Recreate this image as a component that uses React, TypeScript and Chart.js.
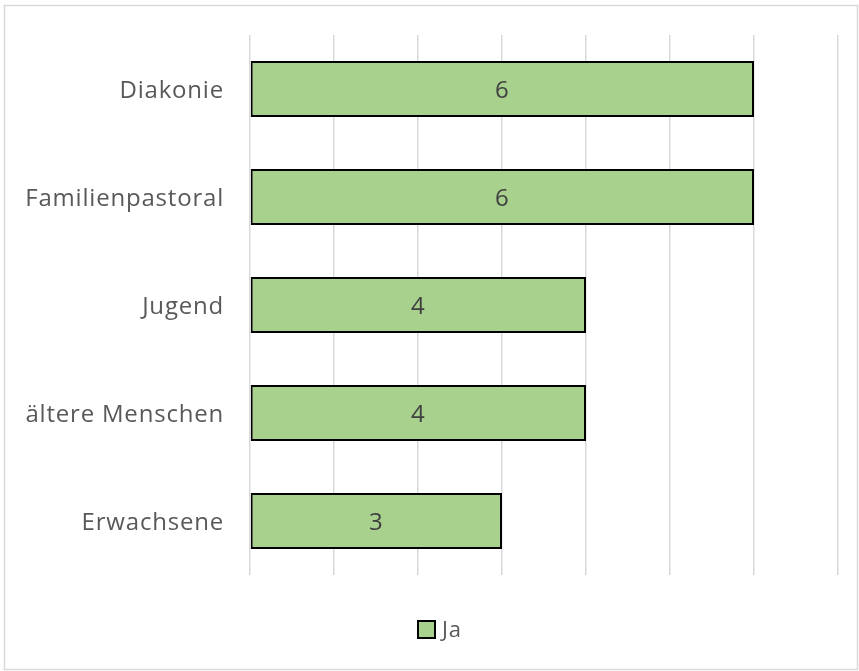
import React, { useEffect, useRef } from "react";
import { Chart, registerables } from "chart.js";

Chart.register(...registerables);

const categories = ["Diakonie", "Familienpastoral", "Jugend", "ältere Menschen", "Erwachsene"];
const seriesLabel = "Ja";
const values = [6, 6, 4, 4, 3];
const xMin = 0;
const xMax = 7;
const xStep = 1;

const FONT = "'Open Sans', sans-serif";
const TEXT = "#595959";

const frame = {
  id: "frame",
  beforeDraw(chart: any) {
    const ctx = chart.ctx;
    ctx.save();
    ctx.fillStyle = "#ffffff";
    ctx.fillRect(0, 0, chart.width, chart.height);
    ctx.strokeStyle = "#d9d9d9";
    ctx.lineWidth = 1.5;
    ctx.strokeRect(4.5, 5.5, 853, 664);
    ctx.restore();
    ctx.letterSpacing = "0.8px";
  },
};

const barLabels = {
  id: "barLabels",
  afterDatasetsDraw(chart: any) {
    const ctx = chart.ctx;
    ctx.save();
    ctx.fillStyle = "#404040";
    ctx.font = `24px ${FONT}`;
    ctx.textAlign = "center";
    ctx.textBaseline = "middle";
    chart.data.datasets.forEach((ds: any, di: number) => {
      const meta = chart.getDatasetMeta(di);
      meta.data.forEach((bar: any, i: number) => {
        const cx = (bar.x + bar.base) / 2;
        ctx.fillText(String(ds.data[i]), cx, bar.y + 2.5);
      });
    });
    ctx.restore();
  },
};

// Legend drawn manually so its position matches the original (centered under the plot)
const customLegend = {
  id: "customLegend",
  afterDraw(chart: any) {
    const ctx = chart.ctx;
    const ds = chart.data.datasets[0];
    ctx.save();
    ctx.font = `22px ${FONT}`;
    const text = ds.label;
    const box = 17;
    const gap = 7;
    const tw = ctx.measureText(text).width;
    const total = box + gap + tw;
    const cx = 439.5;
    const cy = 629.5;
    const x0 = Math.round(cx - total / 2);
    ctx.fillStyle = ds.backgroundColor;
    ctx.fillRect(x0, cy - box / 2, box, box);
    ctx.strokeStyle = ds.borderColor;
    ctx.lineWidth = 2;
    ctx.strokeRect(x0, cy - box / 2, box, box);
    ctx.fillStyle = TEXT;
    ctx.textAlign = "left";
    ctx.textBaseline = "middle";
    ctx.fillText(text, x0 + box + gap, cy + 1);
    ctx.restore();
  },
};

export default function App() {
  const ref = useRef<HTMLCanvasElement>(null);
  useEffect(() => {
    if (!ref.current) return;
    const chart = new Chart(ref.current, {
      type: "bar",
      data: {
        labels: categories,
        datasets: [
          {
            label: seriesLabel,
            data: values,
            backgroundColor: "#a9d18e",
            borderColor: "#000000",
            borderWidth: 2,
            borderSkipped: false,
            categoryPercentage: 1,
            barPercentage: 0.52,
          },
        ],
      },
      options: {
        indexAxis: "y",
        animation: false,
        responsive: false,
        maintainAspectRatio: false,
        layout: { padding: { top: 35, left: 0, right: 21, bottom: 96 } },
        plugins: {
          legend: { display: false },
          tooltip: { enabled: false },
        },
        scales: {
          x: {
            min: xMin,
            max: xMax,
            ticks: { display: false, stepSize: xStep },
            grid: { color: "#d9d9d9", lineWidth: 1.5, drawTicks: false },
            border: { display: false },
            afterFit(axis: any) {
              axis.height = 0;
              axis.paddingLeft = 0;
              axis.paddingRight = 0;
            },
          },
          y: {
            ticks: { color: TEXT, font: { family: FONT, size: 24 }, padding: 18, labelOffset: 2 },
            grid: { display: false },
            border: { display: false },
            afterFit(axis: any) {
              axis.width = 250;
              axis.paddingTop = 0;
              axis.paddingBottom = 0;
            },
          },
        },
      },
      plugins: [frame, barLabels, customLegend],
    });
    return () => chart.destroy();
  }, []);
  return (
    <div style={{ position: "fixed", left: 0, top: 0, width: 859, height: 671 }}>
      <canvas ref={ref} width={859} height={671} style={{ display: "block" }} />
    </div>
  );
}
